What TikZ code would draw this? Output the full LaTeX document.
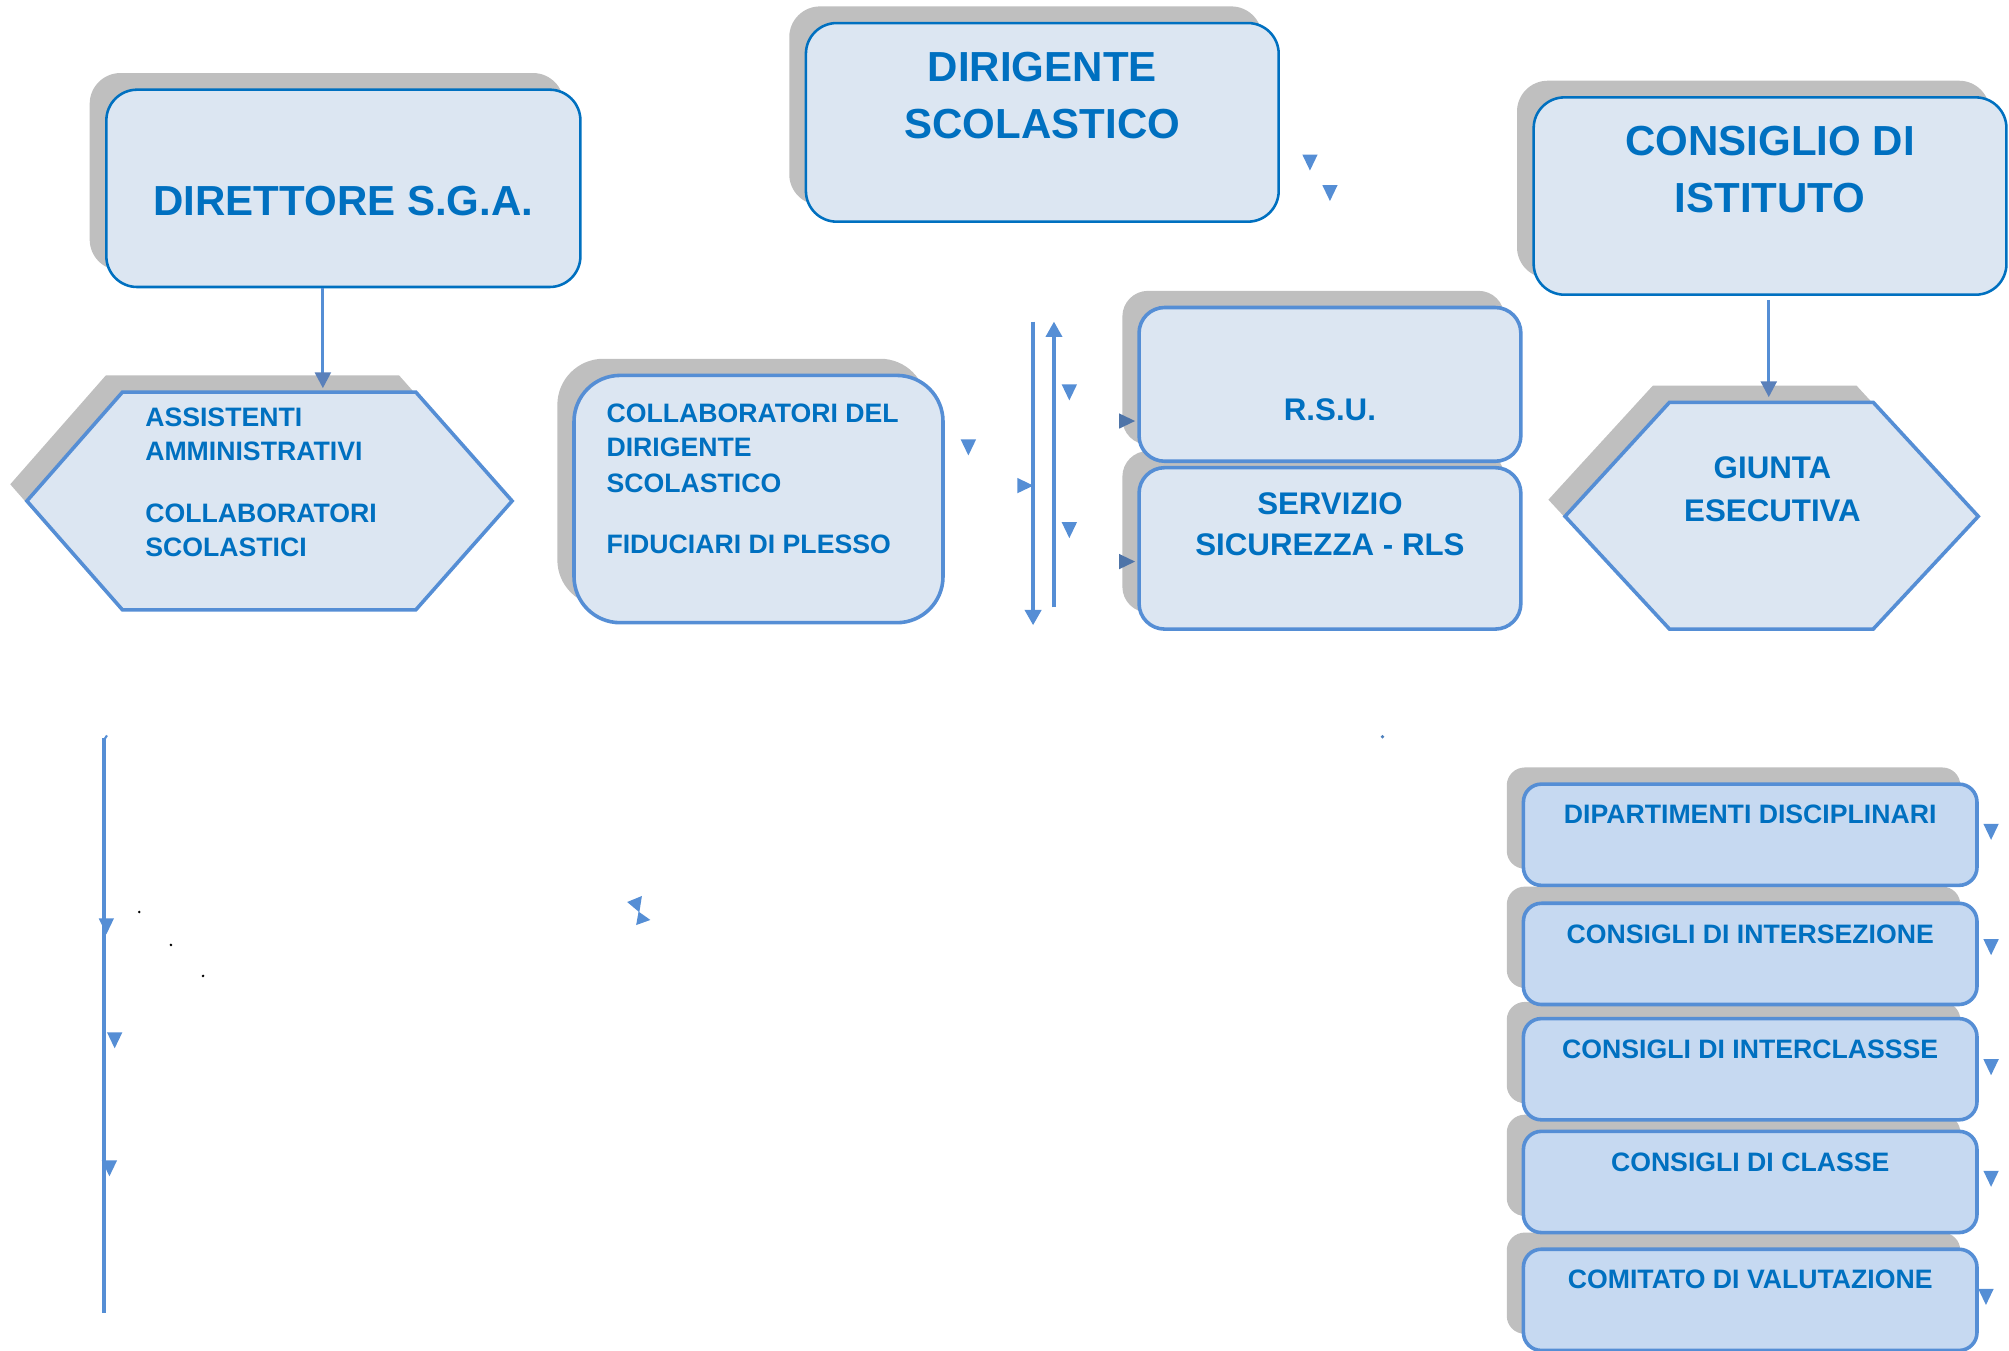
\documentclass[tikz,border=0pt]{standalone}
\usepackage{fontspec}
\setmainfont{Liberation Sans}
\usetikzlibrary{arrows.meta}
\definecolor{tblue}{HTML}{0070C0}
\definecolor{lblue}{HTML}{558ED5}
\definecolor{fillA}{HTML}{DCE6F2}
\definecolor{fillB}{HTML}{C6D9F1}
\definecolor{shgray}{HTML}{BFBFBF}
\definecolor{arrcol}{HTML}{4F81BD}
\definecolor{headcol}{HTML}{5A80BA}
\definecolor{darktri}{HTML}{4E74A8}
\pgfdeclarelayer{shadowlayer}
\pgfsetlayers{shadowlayer,main}
\tikzset{
  shadowshape/.style={fill=shgray, draw=none, anchor=north west, inner sep=0pt, outer sep=0pt},
  topbox/.style={draw=tblue, line width=1pt, fill=fillA, anchor=north west, inner sep=0pt, outer sep=0pt},
  lbox/.style={draw=lblue, line width=1.4pt, fill=fillA, anchor=north west, inner sep=0pt, outer sep=0pt},
  rbox/.style={draw=lblue, line width=1.4pt, fill=fillB, anchor=north west, inner sep=0pt, outer sep=0pt},
  hexshape/.style={draw=lblue, line width=1.4pt, fill=fillA, line join=miter},
  ttl/.style={font=\fontsize{16.4}{20}\selectfont\bfseries, text=tblue, anchor=base, inner sep=0pt},
  midtxt/.style={font=\fontsize{12.2}{15}\selectfont\bfseries, text=tblue, anchor=base, inner sep=0pt},
  smltxt/.style={font=\fontsize{10.4}{13}\selectfont\bfseries, text=tblue, anchor=base west, inner sep=0pt},
  smlc/.style={font=\fontsize{10.4}{13}\selectfont\bfseries, text=tblue, anchor=base, inner sep=0pt},
  arr/.style={draw=lblue, line width=1.1pt, -{Triangle[length=6.2pt,width=6.2pt,color=headcol]}},
  vline/.style={draw=lblue, line width=1.45pt},
}
% box with shadow: name, x, y (top-left, display units), width, height, style, radius
\newcommand\shbox[7]{%
  \begin{pgfonlayer}{shadowlayer}
    \node[shadowshape, rounded corners=#7, minimum width=#4, minimum height=#5] (#1-sh) at ({#2-13},{#3-13}) {};
  \end{pgfonlayer}
  \node[#6, rounded corners=#7, minimum width=#4, minimum height=#5] (#1) at (#2,#3) {};
}
% hexagon with shadow: x1 x2 x3 x4 ytop ymid ybot
\newcommand\hexa[7]{%
  \begin{pgfonlayer}{shadowlayer}
    \fill[shgray, shift={(-13,-13)}] (#1,#6) -- (#2,#5) -- (#3,#5) -- (#4,#6) -- (#3,#7) -- (#2,#7) -- cycle;
  \end{pgfonlayer}
  \path[hexshape] (#1,#6) -- (#2,#5) -- (#3,#5) -- (#4,#6) -- (#3,#7) -- (#2,#7) -- cycle;
}
% small triangle: colour, x, y, angle (0 = pointing down, 90 = right, 180 = up)
\newcommand\tri[4][lblue]{%
  \fill[#1, rotate around={#4:(#2,#3)}] ({#2-6},{#3-6}) -- ({#2+6},{#3-6}) -- (#2,{#3+6.5}) -- cycle;
}
\begin{document}
\begin{tikzpicture}[x=0.5pt, y=-0.5pt]
\useasboundingbox (0,0) rectangle (1568,1054);

% ---- top boxes
\shbox{dir}{83}{70}{185pt}{77pt}{topbox}{12pt}
\shbox{dirig}{629}{18}{184.5pt}{77.5pt}{topbox}{12pt}
\shbox{cons}{1197}{76}{184.5pt}{77pt}{topbox}{12pt}

\node[ttl] (t-dir) at (268,168.5) {DIRETTORE S.G.A.};
\node[ttl] (t-dirig1) at (813.5,63.6) {DIRIGENTE};
\node[ttl] (t-dirig2) at (813.5,108) {SCOLASTICO};
\node[ttl] (t-cons1) at (1381.5,121) {CONSIGLIO DI};
\node[ttl] (t-cons2) at (1381.5,165.6) {ISTITUTO};

% ---- hexagons
\hexa{21}{95.6}{324.5}{399.7}{306}{391}{476}
\coordinate (hexL) at (210,391);
\coordinate (hexL-in) at (252,303);
\hexa{1221.5}{1303}{1462}{1544}{314}{403}{491}
\coordinate (hexR) at (1383,403);
\coordinate (hexR-in) at (1380.5,310);

\node[smltxt] (t-ass1) at (113,332.8) {ASSISTENTI};
\node[smltxt] (t-ass2) at (113,359.8) {AMMINISTRATIVI};
\node[smltxt] (t-ass3) at (113,407.6) {COLLABORATORI};
\node[smltxt] (t-ass4) at (113,434.3) {SCOLASTICI};

\node[midtxt] (t-giu1) at (1383.4,373.7) {GIUNTA};
\node[midtxt] (t-giu2) at (1383.4,407) {ESECUTIVA};

% ---- middle boxes
\shbox{collab}{448}{293}{144pt}{96.5pt}{lbox}{18pt}
\node[smltxt] (t-col1) at (473,329.5) {COLLABORATORI DEL};
\node[smltxt] (t-col2) at (473,356.6) {DIRIGENTE};
\node[smltxt] (t-col3) at (473,384.3) {SCOLASTICO};
\node[smltxt] (t-col4) at (473,432.1) {FIDUCIARI DI PLESSO};

\shbox{rsu}{889}{240}{149pt}{60pt}{lbox}{10pt}
\shbox{sic}{889}{365}{149pt}{63pt}{lbox}{10pt}
\node[midtxt] (t-rsu) at (1038,328.4) {R.S.U.};
\node[midtxt] (t-sic1) at (1038,401.3) {SERVIZIO};
\node[midtxt] (t-sic2) at (1038,433.8) {SICUREZZA - RLS};

% ---- right column
\shbox{dip}{1189}{612}{177pt}{39.5pt}{rbox}{7pt}
\shbox{inse}{1189}{705}{177pt}{39.5pt}{rbox}{7pt}
\shbox{incl}{1189}{795}{177pt}{39.5pt}{rbox}{7pt}
\shbox{cla}{1189}{883}{177pt}{39.5pt}{rbox}{7pt}
\shbox{com}{1189}{975}{177pt}{39.5pt}{rbox}{7pt}
\node[smlc] (t-dip) at (1366,643) {DIPARTIMENTI DISCIPLINARI};
\node[smlc] (t-inse) at (1366,736) {CONSIGLI DI INTERSEZIONE};
\node[smlc] (t-incl) at (1366,826) {CONSIGLI DI INTERCLASSSE};
\node[smlc] (t-cla) at (1366,914) {CONSIGLI DI CLASSE};
\node[smlc] (t-com) at (1366,1006) {COMITATO DI VALUTAZIONE};

% ---- connectors
\draw[arr] ([yshift=-0.5pt]dir.south -| hexL-in) -- (hexL-in);
\draw[arr] ([yshift=-2pt]cons.south -| hexR-in) -- (hexR-in);

\coordinate (v1a) at (806.3,251);
\coordinate (v1b) at (806.3,488);
\coordinate (v2a) at (822.6,474);
\coordinate (v2b) at (822.6,251);
\draw[vline, -{Triangle[length=6pt,width=6.3pt]}] (v1a) -- (v1b);
\draw[vline, line width=1.3pt, -{Triangle[length=6pt,width=6.3pt]}] (v2a) -- (v2b);

\coordinate (L1) at (81.5,576);
\coordinate (L2) at (81.5,1025);
\draw[draw=lblue, line width=1.6pt] (L1) -- (L2);
\draw[draw=lblue, line width=0.8pt] (81.5,577) -- (83.5,574);

% ---- stray arrowheads
\tri{755.8}{349}{0}
\tri{834.6}{306}{0}
\tri{834.6}{413.5}{0}
\tri{800}{379}{90}
\tri[darktri]{879.4}{328.6}{90}
\tri[darktri]{879.4}{438.3}{90}
\tri{1022.4}{126.6}{0}
\tri{1038}{150.4}{0}
\tri{83}{722.7}{0}
\tri{89.5}{811.7}{0}
\tri{85.4}{911.6}{0}
\tri{1554}{649}{0}
\tri{1554}{739}{0}
\tri{1554}{832.7}{0}
\tri{1554}{919.8}{0}
\tri{1550}{1012}{0}
\fill[lblue] (489.5,704) -- (501,699.3) -- (499,712) -- cycle;
\fill[lblue] (496.5,722) -- (507.6,718) -- (498.4,711.5) -- cycle;

% ---- dots
\fill[arrcol] (1079,575) circle (1.5);
\fill[black] (108.7,711.8) circle (1.1);
\fill[black] (133.4,737.5) circle (1.1);
\fill[black] (158.5,761.7) circle (1.1);
\end{tikzpicture}
\end{document}
